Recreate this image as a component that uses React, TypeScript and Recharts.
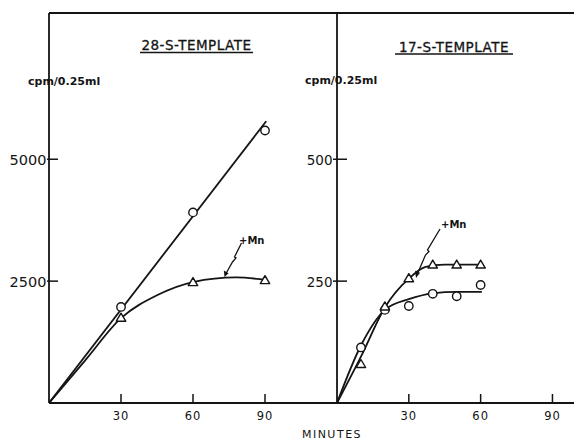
import React from 'react';
import { LineChart, Line, XAxis, YAxis, ReferenceLine } from 'recharts';

// ---------------------------------------------------------------------------
// Data (minutes vs cpm/0.25ml)
// ---------------------------------------------------------------------------

const minuteTicks = [30, 60, 90];
const ticks28 = [2500, 5000];
const ticks17 = [250, 500];

// 28-S template: measured points
const circles28 = [
  { m: 30, v: 1970 },
  { m: 60, v: 3910 },
  { m: 90, v: 5590 },
];
const triangles28 = [
  { m: 30, v: 1750 },
  { m: 60, v: 2480 },
  { m: 90, v: 2520 },
];
// 28-S template: hand-drawn curves
const fitCircles28 = [
  { m: 0, v: 0 },
  { m: 90.5, v: 5780 },
];
const fitTriangles28 = [
  { m: 0, v: 0 },
  { m: 15, v: 870 },
  { m: 30, v: 1740 },
  { m: 45, v: 2210 },
  { m: 60, v: 2480 },
  { m: 78, v: 2575 },
  { m: 90.5, v: 2525 },
];

// 17-S template: measured points
const circles17 = [
  { m: 10, v: 114 },
  { m: 20, v: 191 },
  { m: 30, v: 199 },
  { m: 40, v: 224 },
  { m: 50, v: 219 },
  { m: 60, v: 242 },
];
const triangles17 = [
  { m: 10, v: 80 },
  { m: 20, v: 198 },
  { m: 30, v: 256 },
  { m: 40, v: 284 },
  { m: 50, v: 284 },
  { m: 60, v: 284 },
];
// 17-S template: hand-drawn curves
const fitCircles17 = [
  { m: 0, v: 0 },
  { m: 10, v: 118 },
  { m: 20, v: 191 },
  { m: 30, v: 213 },
  { m: 40, v: 225 },
  { m: 50, v: 228 },
  { m: 60.5, v: 228 },
];
const fitTriangles17 = [
  { m: 0, v: 0 },
  { m: 10, v: 95 },
  { m: 20, v: 196 },
  { m: 30, v: 255 },
  { m: 37, v: 279 },
  { m: 45, v: 284 },
  { m: 61, v: 284 },
];

// ---------------------------------------------------------------------------
// Styles
// ---------------------------------------------------------------------------

const INK = '#141414';
const FONT = '"DejaVu Sans", "Liberation Sans", sans-serif';
const CURVE_W = 1.8;

// ---------------------------------------------------------------------------
// Marks and ticks
// ---------------------------------------------------------------------------

const CircleDot = (props: any) => {
  const { cx, cy, index } = props;
  return <circle key={`c-${index}`} cx={cx} cy={cy} r={4.2} fill="#fff" stroke={INK} strokeWidth={1.4} />;
};

const TriangleDot = (props: any) => {
  const { cx, cy, index } = props;
  const d = `M${cx},${cy - 4.5} L${cx - 4.7},${cy + 3.5} L${cx + 4.7},${cy + 3.5} Z`;
  return <path key={`t-${index}`} d={d} fill="#fff" stroke={INK} strokeWidth={1.4} strokeLinejoin="round" />;
};

const MinuteTick = (props: any) => {
  const { x, y, payload } = props;
  return (
    <g>
      <line x1={x} y1={y} x2={x} y2={y - 9} stroke={INK} strokeWidth={1.5} />
      <text x={x} y={y + 16.5} textAnchor="middle" fontFamily={FONT} fontSize={11.5} letterSpacing={1} fill={INK}>
        {payload.value}
      </text>
    </g>
  );
};

const makeValueTick = (inside: number, outside: number, fontSize: number) => (props: any) => {
  const { x, y, payload } = props;
  return (
    <g>
      <line x1={x - outside} y1={y} x2={x + inside} y2={y} stroke={INK} strokeWidth={1.5} />
      <text x={x - outside - 0.5} y={y + 5.5} textAnchor="end" fontFamily={FONT} fontSize={fontSize} fill={INK}>
        {payload.value}
      </text>
    </g>
  );
};

const Tick28 = makeValueTick(9, 2, 14.5);
const Tick17 = makeValueTick(10, 4, 13.5);

const axisLine = { stroke: INK, strokeWidth: 1.8 };

const App = () => {
  return (
    <div style={{ position: 'absolute', left: 0, top: 0, width: 574, height: 440, background: '#fff' }}>
      {/* 28-S panel */}
      <div style={{ position: 'absolute', left: 0, top: 0 }}>
        <LineChart width={574} height={440} margin={{ top: 13, right: 237, bottom: 0, left: 0 }}>
          <XAxis
            type="number"
            dataKey="m"
            domain={[0, 120]}
            ticks={minuteTicks}
            interval={0}
            height={37}
            tickSize={0}
            tickMargin={0}
            tickLine={false}
            axisLine={axisLine}
            tick={<MinuteTick />}
            allowDataOverflow
          />
          <YAxis
            type="number"
            domain={[0, 8000]}
            ticks={ticks28}
            interval={0}
            width={49}
            tickSize={0}
            tickMargin={0}
            tickLine={false}
            axisLine={axisLine}
            tick={<Tick28 />}
            allowDataOverflow
          />
          <ReferenceLine y={8000} stroke={INK} strokeWidth={1.8} />
          <Line data={fitCircles28} dataKey="v" type="linear" stroke={INK} strokeWidth={CURVE_W} dot={false} activeDot={false} isAnimationActive={false} />
          <Line data={fitTriangles28} dataKey="v" type="monotone" stroke={INK} strokeWidth={CURVE_W} dot={false} activeDot={false} isAnimationActive={false} />
          <Line data={circles28} dataKey="v" stroke="none" dot={CircleDot} activeDot={false} isAnimationActive={false} />
          <Line data={triangles28} dataKey="v" stroke="none" dot={TriangleDot} activeDot={false} isAnimationActive={false} />
        </LineChart>
      </div>

      {/* 17-S panel */}
      <div style={{ position: 'absolute', left: 0, top: 0 }}>
        <LineChart width={574} height={440} margin={{ top: 13, right: 0, bottom: 0, left: 0 }}>
          <XAxis
            type="number"
            dataKey="m"
            domain={[0, 99]}
            ticks={minuteTicks}
            interval={0}
            height={37}
            tickSize={0}
            tickMargin={0}
            tickLine={false}
            axisLine={axisLine}
            tick={<MinuteTick />}
            allowDataOverflow
          />
          <YAxis
            type="number"
            domain={[0, 800]}
            ticks={ticks17}
            interval={0}
            width={337}
            tickSize={0}
            tickMargin={0}
            tickLine={false}
            axisLine={axisLine}
            tick={<Tick17 />}
            allowDataOverflow
          />
          <ReferenceLine y={800} stroke={INK} strokeWidth={1.8} />
          <Line data={fitCircles17} dataKey="v" type="monotone" stroke={INK} strokeWidth={CURVE_W} dot={false} activeDot={false} isAnimationActive={false} />
          <Line data={fitTriangles17} dataKey="v" type="monotone" stroke={INK} strokeWidth={CURVE_W} dot={false} activeDot={false} isAnimationActive={false} />
          <Line data={circles17} dataKey="v" stroke="none" dot={CircleDot} activeDot={false} isAnimationActive={false} />
          <Line data={triangles17} dataKey="v" stroke="none" dot={TriangleDot} activeDot={false} isAnimationActive={false} />
        </LineChart>
      </div>

      {/* titles, unit labels and "+Mn" annotations */}
      <svg width={574} height={440} style={{ position: 'absolute', left: 0, top: 0, pointerEvents: 'none' }}>
        <g fontFamily={FONT} fill={INK}>
          <text x={196.5} y={50} textAnchor="middle" fontSize={13.5} letterSpacing={0.5} stroke={INK} strokeWidth={0.3}>28-S-TEMPLATE</text>
          <line x1={140} y1={52.5} x2={253} y2={52.5} stroke={INK} strokeWidth={1.4} />
          <text x={454} y={51.5} textAnchor="middle" fontSize={13.5} letterSpacing={0.5} stroke={INK} strokeWidth={0.3}>17-S-TEMPLATE</text>
          <line x1={395} y1={54} x2={513} y2={54} stroke={INK} strokeWidth={1.4} />

          <text x={28} y={84.5} fontSize={11} fontWeight="bold">cpm/0.25ml</text>
          <text x={305} y={83.5} fontSize={11} fontWeight="bold">cpm/0.25ml</text>

          <text x={332} y={437.5} textAnchor="middle" fontSize={11} letterSpacing={1.5}>MINUTES</text>

          <text x={239} y={244} fontSize={10} fontWeight="bold">+Mn</text>
          <text x={441} y={228} fontSize={10} fontWeight="bold">+Mn</text>
        </g>
        <g fill="none" stroke={INK} strokeWidth={1.3}>
          <path d="M241.5,243 L234.5,257 L236,258 L232.5,262 L226,273.5" />
          <path d="M440,229 L427.5,250 L429,251.5 L425.5,255 L417.5,273.5" />
        </g>
        <g fill={INK}>
          <path d="M224.5,277 L223.8,270.5 L228.6,273.2 Z" />
          <path d="M416,278 L415,270.8 L420,272.8 Z" />
        </g>
      </svg>
    </div>
  );
};

export default App;
